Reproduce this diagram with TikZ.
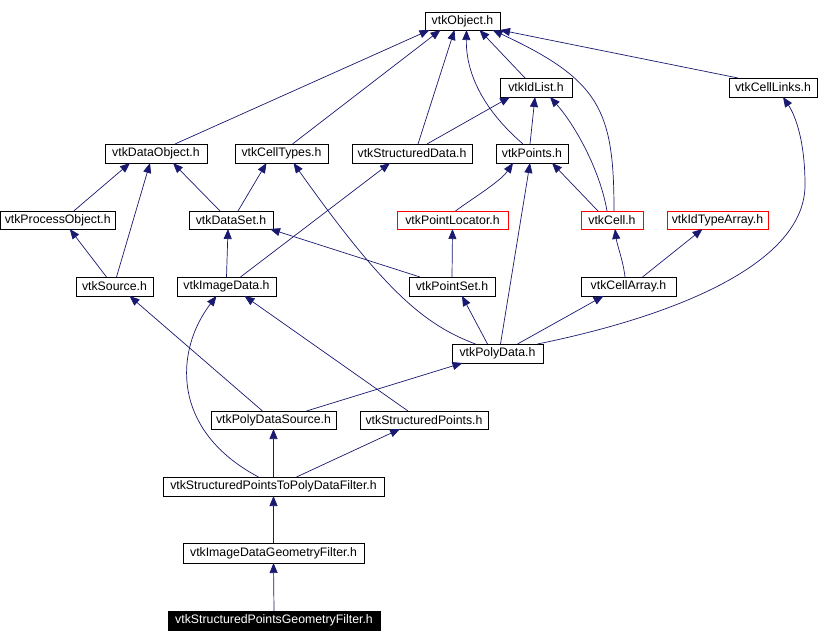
\documentclass[tikz,border=0pt]{standalone}
\usepackage{fontspec}
\setmainfont{Liberation Sans}
\usetikzlibrary{arrows.meta}
\definecolor{edgeblue}{HTML}{191970}
\newcommand{\hdrnode}[7]{\node[#7,minimum width={#4-#2},minimum height={#5-#3}] (#1) at ({(#2+#4)/2},{(#3+#5)/2}) {#6};}
\begin{document}
\begin{tikzpicture}[x=1pt,y=-1pt,
  hdr/.style={draw=black,line width=0.8pt,inner sep=0pt,outer sep=0pt,font=\fontsize{12.3}{14}\selectfont,text=black},
  redhdr/.style={hdr,draw=red},
  curhdr/.style={hdr,fill=black,text=white},
  dep/.style={draw=edgeblue,line width=0.7pt,-{Triangle[length=10pt,width=8pt]}}]
\fill[white] (0,0) rectangle (829,642);
\useasboundingbox (0,0) rectangle (829,642);
\hdrnode{obj}{425}{12}{500}{30}{vtkObject.h}{hdr}
\hdrnode{idl}{500}{78}{572}{97}{vtkIdList.h}{hdr}
\hdrnode{cln}{729}{78}{817}{97}{vtkCellLinks.h}{hdr}
\hdrnode{dobj}{105}{144}{207}{163}{vtkDataObject.h}{hdr}
\hdrnode{ct}{235}{144}{328}{163}{vtkCellTypes.h}{hdr}
\hdrnode{sd}{352}{144}{472}{163}{vtkStructuredData.h}{hdr}
\hdrnode{pts}{496}{144}{568}{163}{vtkPoints.h}{hdr}
\hdrnode{po}{0.5}{211}{115}{229}{vtkProcessObject.h}{hdr}
\hdrnode{ds}{189}{211}{273}{229}{vtkDataSet.h}{hdr}
\hdrnode{pl}{397}{211}{508}{229}{vtkPointLocator.h}{redhdr}
\hdrnode{cell}{581}{211}{643}{229}{vtkCell.h}{redhdr}
\hdrnode{ita}{667}{211}{768}{229}{vtkIdTypeArray.h}{redhdr}
\hdrnode{src}{76}{277}{153}{296}{vtkSource.h}{hdr}
\hdrnode{img}{177}{277}{276}{296}{vtkImageData.h}{hdr}
\hdrnode{ps}{409}{277}{495}{296}{vtkPointSet.h}{hdr}
\hdrnode{ca}{581}{277}{676}{296}{vtkCellArray.h}{hdr}
\hdrnode{pd}{452}{344}{543}{363}{vtkPolyData.h}{hdr}
\hdrnode{pds}{211}{411}{336}{429}{vtkPolyDataSource.h}{hdr}
\hdrnode{sp}{360}{411}{488}{429}{vtkStructuredPoints.h}{hdr}
\hdrnode{sptpd}{163}{477}{384}{496}{vtkStructuredPointsToPolyDataFilter.h}{hdr}
\hdrnode{idgf}{183}{543}{364}{563}{vtkImageDataGeometryFilter.h}{hdr}
\hdrnode{spgf}{168}{611}{380}{630}{vtkStructuredPointsGeometryFilter.h}{curhdr}
% edges
\draw[dep] ([xshift=19]dobj.north) -- ([xshift=-33]obj.south);
\draw[dep] ([xshift=11]ct.north) -- ([xshift=-22]obj.south);
\draw[dep] ([xshift=6]sd.north) -- ([xshift=-8]obj.south);
\draw[dep] ([xshift=-11]idl.north) -- ([xshift=17]obj.south);
\draw[dep] ([xshift=-9]pts.north) .. controls (472,100) and (466,60) .. ([xshift=4]obj.south);
\draw[dep] ([xshift=2]cell.north) .. controls (614,110) and (600,80) .. ([xshift=30]obj.south);
\draw[dep] ([xshift=-35]cln.north) -- (obj.south east);
\draw[dep] ([xshift=15]sd.north) -- ([xshift=-26]idl.south);
\draw[dep] ([xshift=-2]pts.north) -- ([xshift=-1]idl.south);
\draw[dep] ([xshift=-5]cell.north) .. controls (600,170) and (575,125) .. ([xshift=14]idl.south);
\draw[dep] ([xshift=16]po.north) -- ([xshift=-26]dobj.south);
\draw[dep] ([xshift=2]src.north) -- ([xshift=-6]dobj.south);
\draw[dep] ([xshift=-11]ds.north) -- ([xshift=17]dobj.south);
\draw[dep] ([xshift=7]ds.north) -- ([xshift=-15]ct.south);
\draw[dep] ([xshift=-22]pd.north) .. controls (425,325) and (385,292) .. ([xshift=12]ct.south);
\draw[dep] ([xshift=14]img.north) -- ([xshift=-22]sd.south);
\draw[dep] ([xshift=3]pl.north) .. controls (470,200) and (500,182) .. ([xshift=-19]pts.south);
\draw[dep] ([xshift=-14]cell.north) -- ([xshift=20]pts.south);
\draw[dep] ([xshift=3]pd.north) -- ([xshift=-2]pts.south);
\draw[dep] ([xshift=-8]src.north) -- ([xshift=12]po.south);
\draw[dep] (img.north) -- ([xshift=-3]ds.south);
\draw[dep] ([xshift=-32]ps.north) -- ([xshift=39]ds.south);
\draw[dep] (ps.north) -- (pl.south);
\draw[dep] ([xshift=-3.5]ca.north) .. controls (623,260) and (617,245) .. ([xshift=3]cell.south);
\draw[dep] ([xshift=14]ca.north) -- ([xshift=-15]ita.south);
\draw[dep] ([xshift=-10]pd.north) -- ([xshift=10]ps.south);
\draw[dep] ([xshift=20]pd.north) -- ([xshift=-25]ca.south);
\draw[dep] ([xshift=40]pd.north) .. controls (680,315) and (805,262) .. (805,185) .. controls (805,140) and (795,115) .. ([xshift=10]cln.south);
\draw[dep] ([xshift=-11]pds.north) -- ([xshift=15]src.south);
\draw[dep] ([xshift=33]pds.north) -- ([xshift=-35]pd.south);
\draw[dep] ([xshift=-16]sp.north) -- ([xshift=18]img.south);
\draw[dep] ([xshift=-15]sptpd.north) .. controls (170,430) and (175,350) .. ([xshift=-10]img.south);
\draw[dep] (sptpd.north) -- (pds.south);
\draw[dep] ([xshift=23]sptpd.north) -- ([xshift=-24]sp.south);
\draw[dep] (idgf.north) -- (sptpd.south);
\draw[dep] (spgf.north) -- (idgf.south);
\end{tikzpicture}
\end{document}
